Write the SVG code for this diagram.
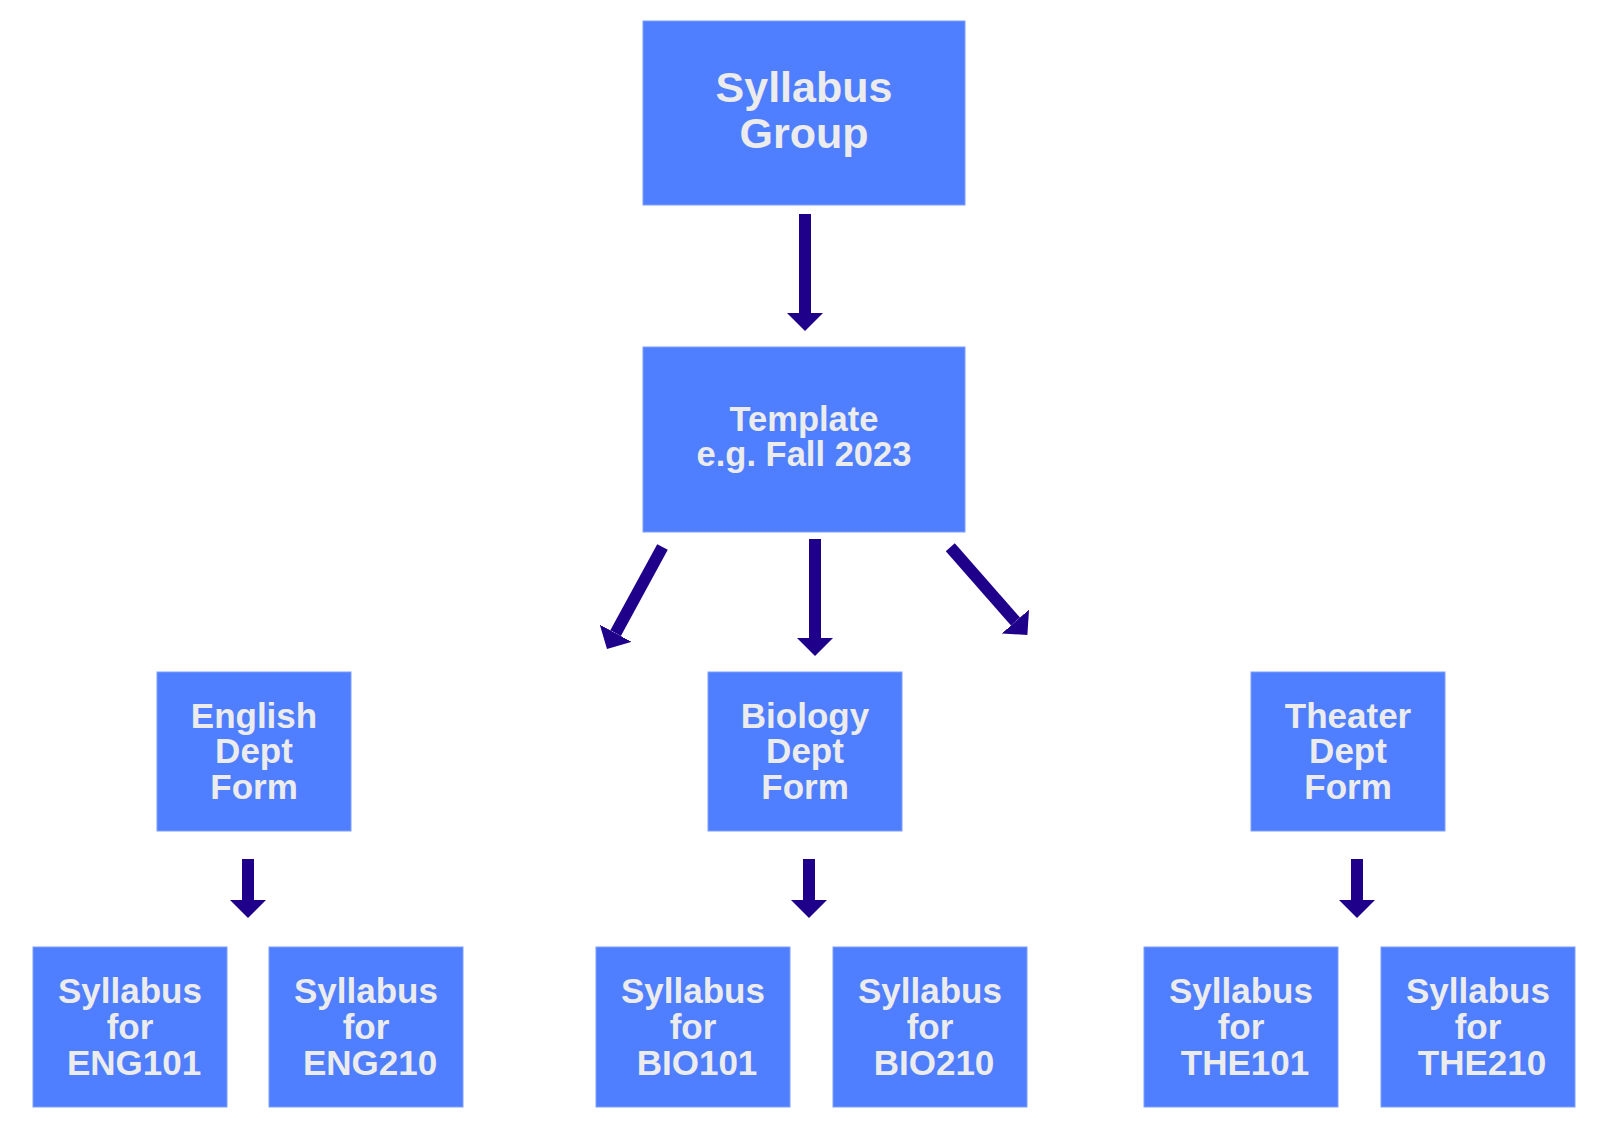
<svg xmlns="http://www.w3.org/2000/svg" width="1600" height="1134" viewBox="0 0 1600 1134">
  <style>
    .box { fill: #4f7fff; stroke: #7c9fff; stroke-width: 1; }
    .lbl { font-family: "Liberation Sans", Arial, sans-serif; font-weight: bold; fill: #ececec; text-anchor: middle; }
    .big { font-size: 43px; }
    .mid { font-size: 34.5px; }
    .sm { font-size: 35px; }
    .conn { stroke: #1f008b; stroke-width: 12; fill: none; marker-end: url(#head); }
  </style>
  <defs>
    <marker id="head" markerUnits="userSpaceOnUse" viewBox="0 0 18 36" markerWidth="18" markerHeight="36" refX="0" refY="18" orient="auto">
      <path d="M0,0 L18,18 L0,36 Z" fill="#1f008b"/>
    </marker>
  </defs>
  <rect width="1600" height="1134" fill="#ffffff"/>

  <g id="connectors">
    <line class="conn" x1="805" y1="214" x2="805" y2="313"/>
    <line class="conn" x1="662.5" y1="547" x2="615.6" y2="633.2"/>
    <line class="conn" x1="815" y1="539" x2="815" y2="638"/>
    <line class="conn" x1="950.3" y1="547.3" x2="1015.5" y2="621.5"/>
    <line class="conn" x1="248" y1="859" x2="248" y2="900"/>
    <line class="conn" x1="809" y1="859" x2="809" y2="900"/>
    <line class="conn" x1="1357" y1="859" x2="1357" y2="900"/>
  </g>

  <g id="syllabus-group">
    <rect class="box" x="643" y="21" width="322" height="184"/>
    <text class="lbl big" x="804" y="102">Syllabus</text>
    <text class="lbl big" x="804" y="148">Group</text>
  </g>

  <g id="template">
    <rect class="box" x="643" y="347" width="322" height="185"/>
    <text class="lbl mid" x="804" y="431">Template</text>
    <text class="lbl mid" x="804" y="466">e.g. Fall 2023</text>
  </g>

  <g id="english-dept">
    <rect class="box" x="157" y="672" width="194" height="159"/>
    <text class="lbl sm" x="254" y="728">English</text>
    <text class="lbl sm" x="254" y="763">Dept</text>
    <text class="lbl sm" x="254" y="799">Form</text>
  </g>

  <g id="biology-dept">
    <rect class="box" x="708" y="672" width="194" height="159"/>
    <text class="lbl sm" x="805" y="728">Biology</text>
    <text class="lbl sm" x="805" y="763">Dept</text>
    <text class="lbl sm" x="805" y="799">Form</text>
  </g>

  <g id="theater-dept">
    <rect class="box" x="1251" y="672" width="194" height="159"/>
    <text class="lbl sm" x="1348" y="728">Theater</text>
    <text class="lbl sm" x="1348" y="763">Dept</text>
    <text class="lbl sm" x="1348" y="799">Form</text>
  </g>

  <g id="eng101">
    <rect class="box" x="33" y="947" width="194" height="160"/>
    <text class="lbl sm" x="130" y="1003">Syllabus</text>
    <text class="lbl sm" x="130" y="1039">for</text>
    <text class="lbl sm" x="134" y="1075">ENG101</text>
  </g>

  <g id="eng210">
    <rect class="box" x="269" y="947" width="194" height="160"/>
    <text class="lbl sm" x="366" y="1003">Syllabus</text>
    <text class="lbl sm" x="366" y="1039">for</text>
    <text class="lbl sm" x="370" y="1075">ENG210</text>
  </g>

  <g id="bio101">
    <rect class="box" x="596" y="947" width="194" height="160"/>
    <text class="lbl sm" x="693" y="1003">Syllabus</text>
    <text class="lbl sm" x="693" y="1039">for</text>
    <text class="lbl sm" x="697" y="1075">BIO101</text>
  </g>

  <g id="bio210">
    <rect class="box" x="833" y="947" width="194" height="160"/>
    <text class="lbl sm" x="930" y="1003">Syllabus</text>
    <text class="lbl sm" x="930" y="1039">for</text>
    <text class="lbl sm" x="934" y="1075">BIO210</text>
  </g>

  <g id="the101">
    <rect class="box" x="1144" y="947" width="194" height="160"/>
    <text class="lbl sm" x="1241" y="1003">Syllabus</text>
    <text class="lbl sm" x="1241" y="1039">for</text>
    <text class="lbl sm" x="1245" y="1075">THE101</text>
  </g>

  <g id="the210">
    <rect class="box" x="1381" y="947" width="194" height="160"/>
    <text class="lbl sm" x="1478" y="1003">Syllabus</text>
    <text class="lbl sm" x="1478" y="1039">for</text>
    <text class="lbl sm" x="1482" y="1075">THE210</text>
  </g>
</svg>
